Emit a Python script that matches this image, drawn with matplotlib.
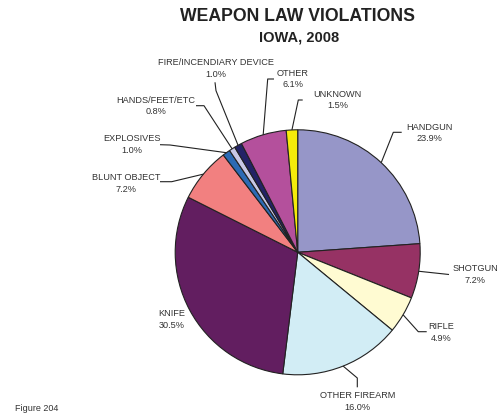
import numpy as np
import matplotlib
matplotlib.use('Agg')
import matplotlib.pyplot as plt

plt.rcParams['font.family'] = ['Liberation Sans', 'DejaVu Sans']

# data
weapons = ['HANDGUN', 'SHOTGUN', 'RIFLE', 'OTHER FIREARM', 'KNIFE', 'BLUNT OBJECT',
           'EXPLOSIVES', 'HANDS/FEET/ETC', 'FIRE/INCENDIARY DEVICE', 'OTHER', 'UNKNOWN']
pcts = [23.9, 7.2, 4.9, 16.0, 30.5, 7.2, 1.0, 0.8, 1.0, 6.1, 1.5]
colors = ['#9696C8', '#963264', '#FFFBD2', '#D2EDF5', '#621E60', '#F28080',
          '#2C6AB4', '#C8C8E6', '#232366', '#B4509C', '#F5EB0A']

W, H = 498, 414
fig = plt.figure(figsize=(W / 100, H / 100), dpi=100)
ax = fig.add_axes([0, 0, 1, 1])
ax.set_xlim(0, W)
ax.set_ylim(0, H)
ax.axis('off')

def py(y):
    # pixel row -> data y
    return H - y

cx, cy, r = 297.7, py(253.3), 122.5
wedges, _ = ax.pie(pcts, colors=colors, startangle=90, counterclock=False,
                   center=(cx, cy), radius=r, frame=True,
                   wedgeprops=dict(edgecolor='#222222', linewidth=0.8))
ax.set_xlim(0, W)
ax.set_ylim(0, H)
ax.set_aspect('equal')
ax.axis('off')

# label layout: leader points (pixel coords) and text centre
layout = {
    'HANDGUN': ([(393.3, 133.3), (401.7, 133.3)], (429, 133)),
    'SHOTGUN': ([(449, 275.5)], (475, 274.5)),
    'RIFLE': ([(418.3, 332.7), (426.7, 332.7)], (441, 332.5)),
    'OTHER FIREARM': ([(357.3, 379), (357.3, 388.3)], (357.5, 401.5)),
    'KNIFE': ([], (172, 319.5)),
    'BLUNT OBJECT': ([(171.7, 182.7), (160, 182.7)], (126, 183.5)),
    'EXPLOSIVES': ([(170, 146), (160, 145.7)], (132, 144.5)),
    'HANDS/FEET/ETC': ([(204, 106.7), (196, 106.7)], (156, 106.2)),
    'FIRE/INCENDIARY DEVICE': ([(216, 91.7), (215, 83.3)], (216, 68.3)),
    'OTHER': ([(267.7, 80), (274, 80)], (293, 78.8)),
    'UNKNOWN': ([(298.3, 101), (302.7, 101)], (337.5, 100)),
}

for w, name, p in zip(wedges, weapons, pcts):
    mid = np.deg2rad((w.theta1 + w.theta2) / 2)
    ex, ey = cx + r * np.cos(mid), cy + r * np.sin(mid)
    pts, (tx, ty) = layout[name]
    if pts:
        xs = [ex] + [q[0] for q in pts]
        ys = [ey] + [py(q[1]) for q in pts]
        ax.plot(xs, ys, color='#222222', lw=0.8, solid_capstyle='butt')
    ax.text(tx, py(ty), '%s\n%.1f%%' % (name, p), ha='center', va='center',
            fontsize=6.6, color='#333333', linespacing=1.35)

ax.text(297.7, py(16.7), 'WEAPON LAW VIOLATIONS', ha='center', va='center',
        fontsize=12.7, fontweight='bold', color='#222222')
ax.text(299, py(37.7), 'IOWA, 2008', ha='center', va='center',
        fontsize=10.5, fontweight='bold', color='#222222')
ax.text(15, py(409), 'Figure 204', ha='left', va='center',
        fontsize=6.5, color='#333333')

fig.savefig('out.png', dpi=100)
